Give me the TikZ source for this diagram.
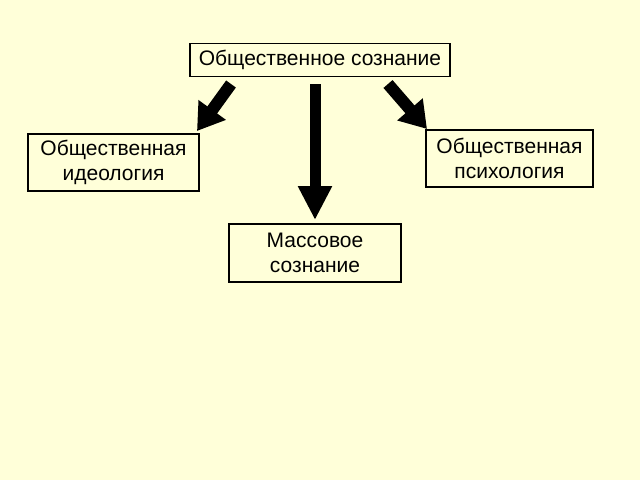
\documentclass[tikz,border=0pt]{standalone}
\usepackage{fontspec}
\setmainfont{Liberation Sans}
\usetikzlibrary{arrows.meta}
\definecolor{bg}{RGB}{255,255,217}
\begin{document}
\begin{tikzpicture}[x=1pt,y=-1pt,
  box/.style={draw,line width=1.5pt,align=center,font=\fontsize{21}{25}\selectfont,inner sep=1pt},
  barrow/.style={line width=12pt,-{Triangle[width=32pt,length=26pt]}}]
\fill[bg] (0,0) rectangle (640,480);
\useasboundingbox (0,0) rectangle (640,480);
\node[box,minimum width=260,minimum height=33] (top) at (320,60) {Общественное сознание};
\node[box,minimum width=171,minimum height=57] (left) at (113.5,162.5) {Общественная\\идеология};
\node[box,minimum width=167,minimum height=57] (right) at (509.5,158.5) {Общественная\\психология};
\node[box,minimum width=172,minimum height=58] (mid) at (315,253) {Массовое\\сознание};
\coordinate (ls) at (231,84); \coordinate (le) at (197,131);
\coordinate (rs) at (388,84); \coordinate (re) at (427,129);
\coordinate (ms) at (315,84); \coordinate (me) at (315,220);
\draw[barrow] (ls) -- (le);
\draw[barrow] (rs) -- (re);
\draw[line width=11pt,-{Triangle[width=32pt,length=34pt]}] (ms) -- (me);
\end{tikzpicture}
\end{document}
